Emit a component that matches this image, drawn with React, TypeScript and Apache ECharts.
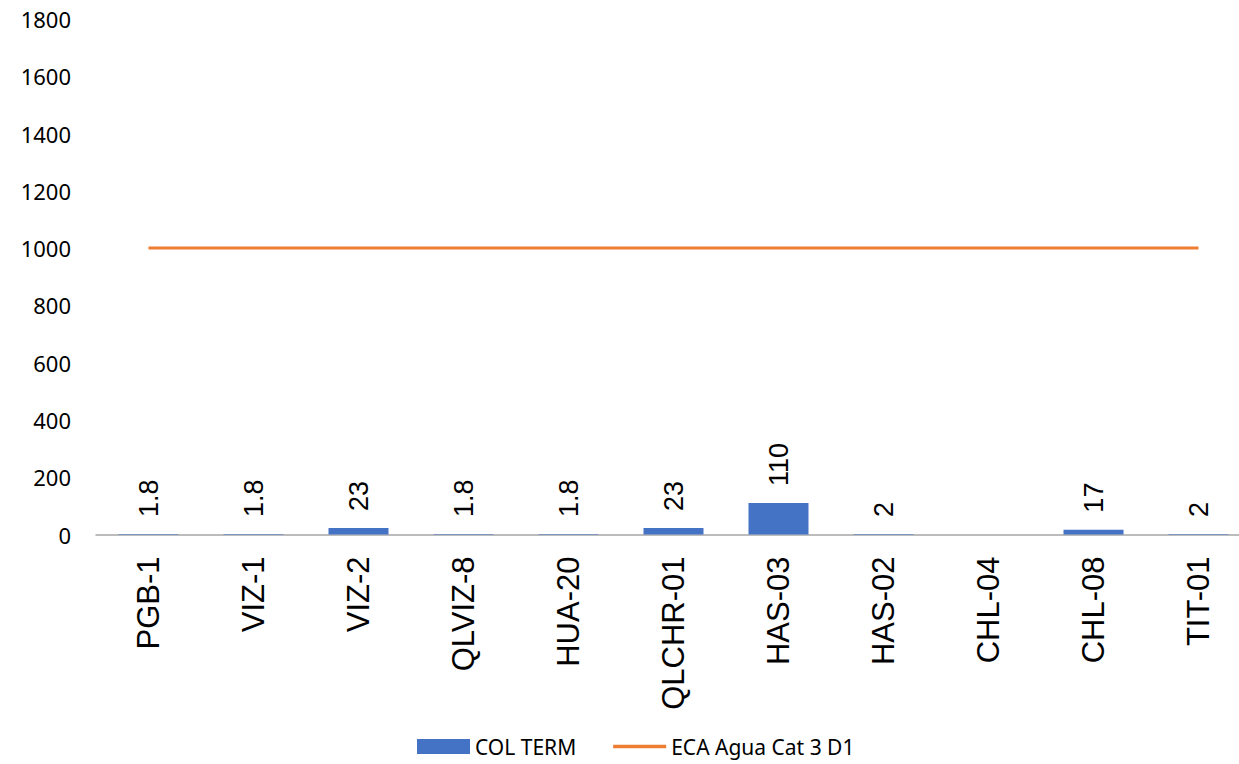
import React, { useEffect, useRef } from "react";
import * as echarts from "echarts";

const categories = ["PGB-1", "VIZ-1", "VIZ-2", "QLVIZ-8", "HUA-20", "QLCHR-01", "HAS-03", "HAS-02", "CHL-04", "CHL-08", "TIT-01"];
const colTerm: (number | null)[] = [1.8, 1.8, 23, 1.8, 1.8, 23, 110, 2, null, 17, 2];
const ecaLimit = [1000, 1000, 1000, 1000, 1000, 1000, 1000, 1000, 1000, 1000, 1000];
const yMin = 0;
const yMax = 1800;
const yInterval = 200;

export default function App() {
  const ref = useRef<HTMLDivElement>(null);
  useEffect(() => {
    document.body.style.margin = "0";
    document.body.style.overflow = "hidden";
    if (!ref.current) return;
    const chart = echarts.init(ref.current, undefined, { renderer: "svg" });
    chart.setOption({
      animation: false,
      backgroundColor: "#ffffff",
      grid: { left: 96, right: 0, top: 19, bottom: 229.5, containLabel: false },
      legend: {
        bottom: 2,
        left: 412,
        itemWidth: 53,
        itemHeight: 15,
        itemGap: 37,
        textStyle: { fontFamily: "Noto Sans", fontSize: 21, color: "#000" },
        data: [
          { name: "COL TERM", icon: "rect" },
          { name: "ECA Agua Cat 3 D1", icon: "path://M0,0h52v3.4h-52z" },
        ],
      },
      xAxis: {
        type: "category",
        data: categories,
        axisLine: { lineStyle: { color: "#A6A6A6", width: 1.5 } },
        axisTick: { show: false },
        axisLabel: {
          rotate: 90,
          interval: 0,
          margin: 22,
          fontFamily: "Liberation Sans",
          fontSize: 31,
          color: "#000",
        },
      },
      yAxis: {
        type: "value",
        min: yMin,
        max: yMax,
        interval: yInterval,
        axisLine: { show: false },
        axisTick: { show: false },
        splitLine: { show: false },
        axisLabel: {
          margin: 25,
          fontFamily: "Noto Sans",
          fontSize: 22,
          color: "#000",
          formatter: (v: number) => String(v),
        },
      },
      series: [
        {
          name: "COL TERM",
          type: "bar",
          data: colTerm,
          barWidth: 60,
          itemStyle: { color: "#4472C4" },
          label: {
            show: true,
            position: "top",
            rotate: 90,
            align: "left",
            verticalAlign: "middle",
            distance: 17,
            fontFamily: "Liberation Sans",
            fontSize: 27,
            color: "#000",
          },
        },
        {
          name: "ECA Agua Cat 3 D1",
          type: "line",
          data: ecaLimit,
          symbol: "none",
          lineStyle: { color: "#ED7D31", width: 3 },
          itemStyle: { color: "#ED7D31" },
        },
      ],
    });
    return () => chart.dispose();
  }, []);
  return (
    <div style={{ width: 1239, height: 764, overflow: "hidden" }}>
      <div ref={ref} style={{ width: 1251, height: 764 }} />
    </div>
  );
}
